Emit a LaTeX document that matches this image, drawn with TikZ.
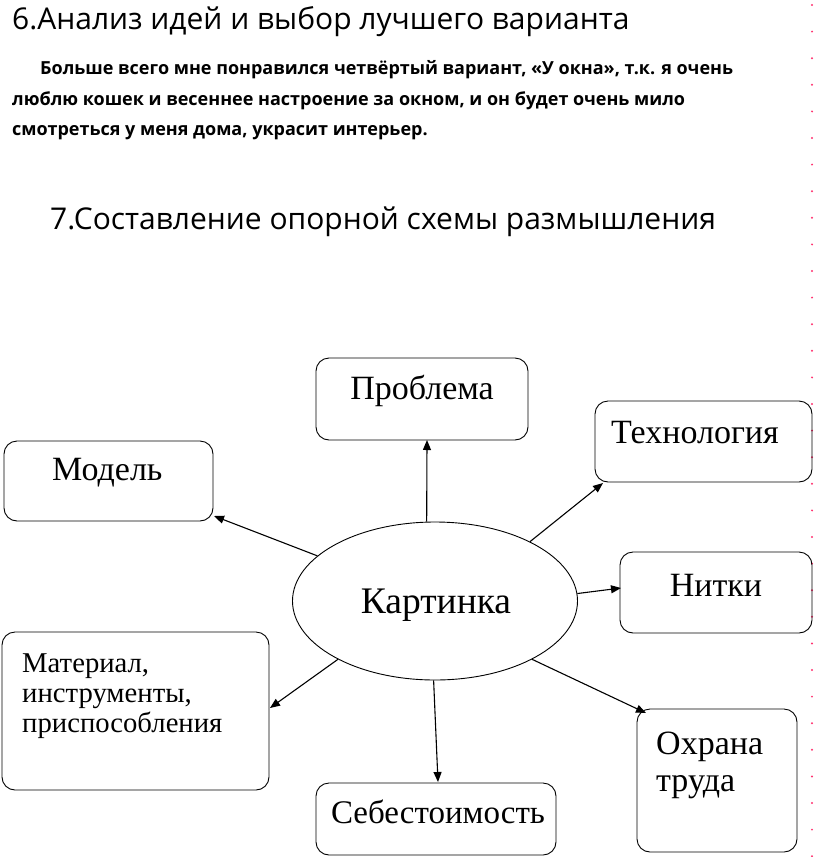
\documentclass[tikz,border=0pt]{standalone}
\usepackage{fontspec}
\setmainfont{Liberation Serif}
\newfontfamily\comic{Open Sans}
\usetikzlibrary{shapes.geometric,arrows.meta}
\begin{document}
\begin{tikzpicture}[x=1pt,y=-1pt,
  box/.style={draw,rounded corners=13pt,line width=0.9pt},
  lbl/.style={font=\fontsize{34}{38}\selectfont,inner sep=0pt},
  arr/.style={-{Triangle[length=10pt,width=8pt]},line width=1.1pt},
  head/.style={font=\comic\fontsize{30}{34}\selectfont,inner sep=0pt,anchor=west},
  bodyl/.style={font=\comic\bfseries\fontsize{18}{22}\selectfont,inner sep=0pt,anchor=west}]
\useasboundingbox (0,0) rectangle (816,857);
% page edge marks
\foreach \i in {0,...,32} {
  \fill[red!70!magenta!80!white] (812,{5+\i*26.6}) circle (1.1);
}
% texts
\node[head] (h1) at (12,22) {6.Анализ идей и выбор лучшего варианта};
\node[bodyl] (b1) at (40,70) {Больше всего мне понравился четвёртый вариант, «У окна», т.к. я очень};
\node[bodyl] (b2) at (12,101) {люблю кошек и весеннее настроение за окном, и он будет очень мило};
\node[bodyl] (b3) at (12,133) {смотреться у меня дома, украсит интерьер.};
\node[head] (h2) at (50,222) {7.Составление опорной схемы размышления};
% boxes
\draw[box] (316,358) rectangle (528,440);
\node[lbl] (tp) at (422,391) {Проблема};
\coordinate (pb) at (427,440);
\draw[box] (595,401) rectangle (812,482);
\node[lbl] (tt) at (695,433) {Технология};
\coordinate (tb) at (603,483);
\draw[box] (4,441) rectangle (213,521);
\node[lbl,anchor=west] (tm) at (52,473) {Модель};
\coordinate (mb) at (214,516);
\draw[box] (620,552) rectangle (812,633);
\node[lbl] (tn) at (716,585) {Нитки};
\coordinate (nb) at (621,588);
\draw[box] (2,632) rectangle (269,790);
\node[lbl,anchor=north west,align=left,font=\fontsize{28.7}{30}\selectfont] (tmat) at (22,653) {Материал,\\инструменты,\\приспособления};
\coordinate (matb) at (270,708);
\draw[box] (637,709) rectangle (797,852);
\node[lbl,anchor=north west,align=left,font=\fontsize{34}{37}\selectfont] (to) at (656,732) {Охрана\\труда};
\coordinate (ob) at (646,713);
\draw[box] (316,783) rectangle (556,855);
\node[lbl,font=\fontsize{33}{36}\selectfont] (ts) at (438,812) {Себестоимость};
\coordinate (sb) at (438,782);
% ellipse
\node[draw,ellipse,minimum width=285pt,minimum height=158pt,line width=0.9pt] (c) at (435,601) {};
\node[font=\fontsize{37.5}{40}\selectfont,inner sep=0pt] (ct) at (436,605) {Картинка};
% arrows
\draw[arr] (c.96) -- (pb);
\draw[arr] (c.159) -- (mb);
\draw[arr] (c.32) -- (tb);
\draw[arr] (c.3) -- (nb);
\draw[arr] (c.211) -- (matb);
\draw[arr] (c.269.3) -- (sb);
\draw[arr] (c.329) -- (ob);
\end{tikzpicture}
\end{document}
